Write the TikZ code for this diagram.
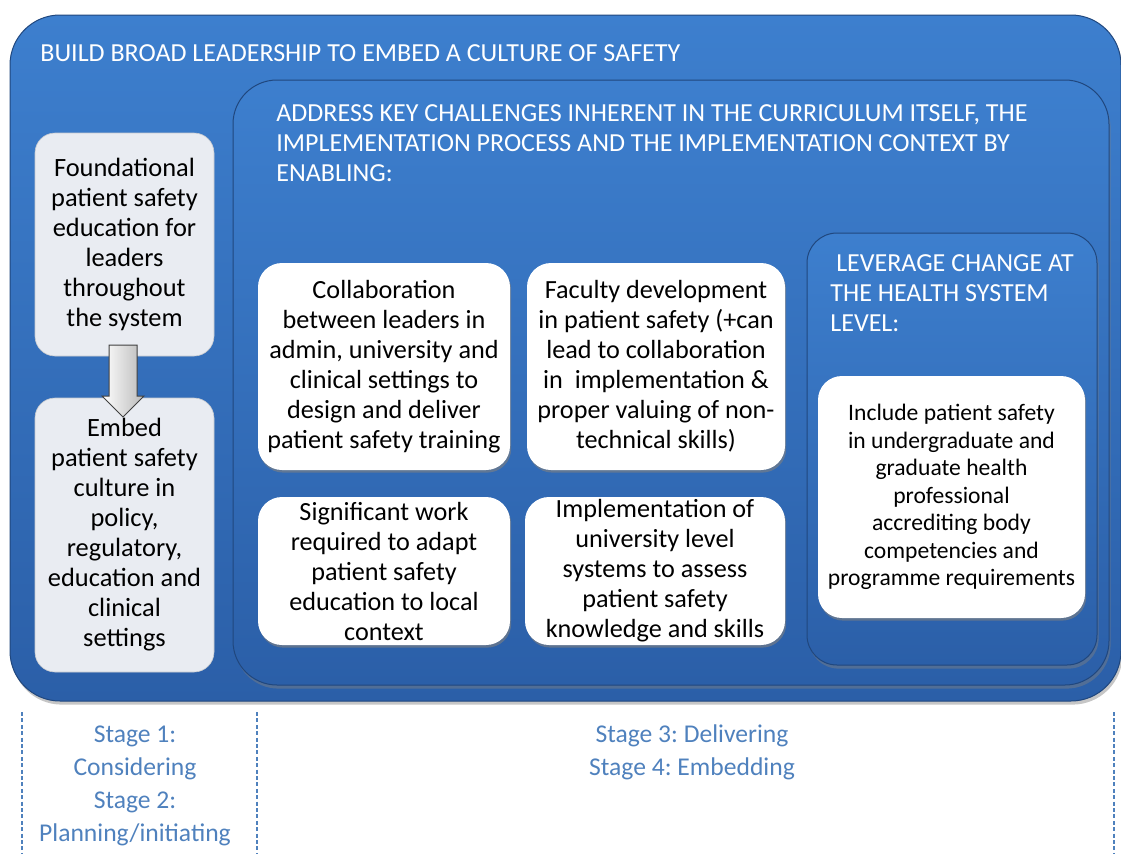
\documentclass[tikz,border=0pt]{standalone}
\usepackage{fontspec}
\setmainfont{Carlito}
\usetikzlibrary{shapes.arrows,shadows,calc}
\frenchspacing

\definecolor{panelTop}{RGB}{61,127,206}
\definecolor{panelBot}{RGB}{43,95,168}
\definecolor{boxGrey}{RGB}{233,236,242}
\definecolor{stageBlue}{RGB}{79,129,189}

\begin{document}
\begin{tikzpicture}[x=0.5pt,y=-0.5pt,
  panel/.style={rounded corners=#1, top color=panelTop, bottom color=panelBot,
    draw=panelBot!75!black, line width=0.5pt,
    drop shadow={opacity=0.45, shadow xshift=0.8pt, shadow yshift=-1.8pt}},
  heading/.style={text=white, inner sep=0pt, align=left, font=\fontsize{13}{14.8}\selectfont},
  greybox/.style={rounded corners=10pt, fill=boxGrey, draw=boxGrey!85!black, line width=0.3pt,
    align=center, inner sep=0pt, minimum width=89.5pt, font=\fontsize{13.2}{15}\selectfont},
  whitebox/.style={rounded corners=12pt, fill=white, align=center, inner sep=0pt,
    font=\fontsize{13.1}{15}\selectfont,
    drop shadow={opacity=0.6, shadow xshift=0.6pt, shadow yshift=-1.3pt}},
  downarrow/.style={single arrow, single arrow head extend=3.5pt, single arrow head indent=0pt,
    inner sep=6.75pt, minimum height=36pt, rotate=-90, draw=black!75, line width=0.5pt,
    left color=white, right color=gray!55},
  stage/.style={text=stageBlue, align=center, inner sep=0pt, font=\fontsize{12.8}{16.5}\selectfont},
  divider/.style={draw=stageBlue, dash pattern=on 2pt off 1.2pt, line width=0.6pt}]

\useasboundingbox (0,0) rectangle (1121,853);

% nested blue panels
\path[panel=25pt] (10,15) rectangle (1121,701);
\path[panel=22pt] (233,80) rectangle (1109,685);
\path[panel=15pt] (807,233) rectangle (1097,665);

% panel headings (base = baseline of the last line)
\node[heading, anchor=base west] (build) at (40,61) {BUILD BROAD LEADERSHIP TO EMBED A CULTURE OF SAFETY};
\node[heading, anchor=base west] (address) at (276,181) {ADDRESS KEY CHALLENGES INHERENT IN THE CURRICULUM ITSELF, THE\\IMPLEMENTATION PROCESS AND THE IMPLEMENTATION CONTEXT BY\\ENABLING:};
\node[heading, anchor=base west] (leverage) at (830,331) {\ LEVERAGE CHANGE AT\\THE HEALTH SYSTEM\\LEVEL:};

% stages 1 and 2
\node[greybox, minimum height=111.5pt] (found) at (124.5,244.5) {Foundational\\patient safety\\education for\\leaders\\throughout\\the system};
\node[greybox, minimum height=137pt] (embed) at (124.5,535) {Embed\\patient safety\\culture in\\policy,\\regulatory,\\education and\\clinical\\settings};
\node[downarrow] (arr) at ($(found.south)!0.5!(embed.north)+(-1.5,-3)$) {};

% stages 3 and 4
\node[whitebox, minimum width=126pt, minimum height=103.5pt] (collab) at (384,366.5) {Collaboration\\between leaders in\\admin, university and\\clinical settings to\\design and deliver\\patient safety training};
\node[whitebox, minimum width=129pt, minimum height=103.5pt] (faculty) at (656,366.5) {Faculty development\\in patient safety (+can\\lead to collaboration\\in~ implementation \&\\proper valuing of non-\\technical skills)};
\node[whitebox, minimum width=126pt, minimum height=74pt] (adapt) at (384,571) {Significant work\\required to adapt\\patient safety\\education to local\\context};
\node[whitebox, minimum width=130pt, minimum height=74pt] (assess) at (655,571) {Implementation of\\university level\\systems to assess\\patient safety\\knowledge and skills};
\node[whitebox, minimum width=133.5pt, minimum height=121pt, font=\fontsize{11.8}{13.75}\selectfont] (accredit) at (951.5,497) {Include patient safety\\in undergraduate and\\graduate health\\professional\\accrediting body\\competencies and\\programme requirements};

% stage labels below
\draw[divider] (22,712) -- (22,853);
\draw[divider] (257,712) -- (257,853);
\draw[divider] (1114,712) -- (1114,853);
\node[stage] (early) at (135,786) {Stage 1:\\Considering\\Stage 2:\\Planning/initiating};
\node[stage] (late) at (692,752) {Stage 3: Delivering\\Stage 4: Embedding};
\end{tikzpicture}
\end{document}
